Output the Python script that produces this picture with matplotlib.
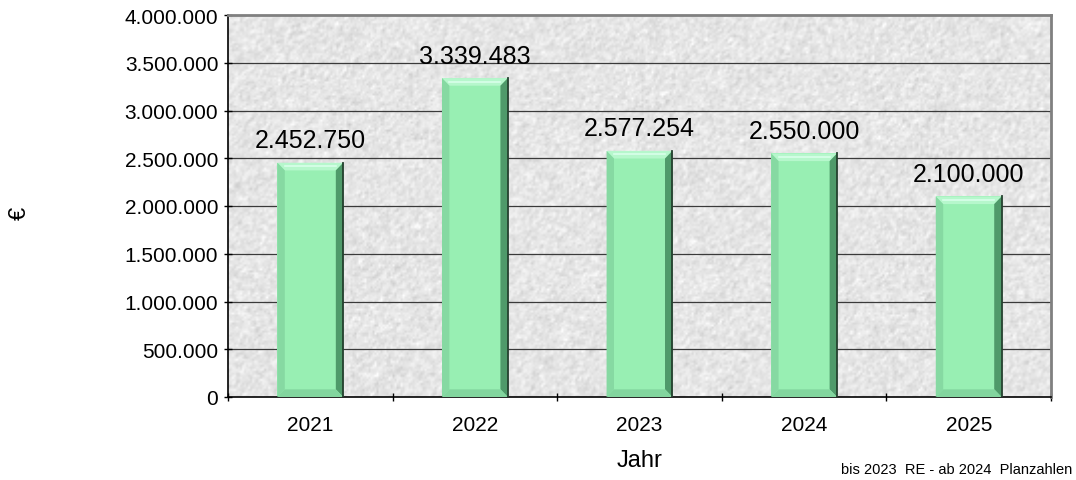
import matplotlib
matplotlib.use('agg')
import matplotlib.pyplot as plt
from matplotlib.patches import Polygon
from matplotlib.ticker import FuncFormatter, FixedLocator
import numpy as np

plt.rcParams['font.family'] = ['Liberation Sans', 'DejaVu Sans']

years = ['2021', '2022', '2023', '2024', '2025']
values = [2452750, 3339483, 2577254, 2550000, 2100000]
value_labels = ['2.452.750', '3.339.483', '2.577.254', '2.550.000', '2.100.000']

bar_color = '#98efb3'


def de_fmt(v, pos=None):
    return '{:,.0f}'.format(v).replace(',', '.')


fig = plt.figure(figsize=(10.76, 4.81), dpi=100)
ax = fig.add_axes([228 / 1076, 83 / 481, 823 / 1076, 382 / 481])

ax.set_xlim(-0.5, 4.5)
ax.set_ylim(0, 4000000)

# granite-like background texture (decoration only)
rng = np.random.default_rng(3)
tex = rng.normal(0.90, 0.05, (190, 410))
tex = (tex + np.roll(tex, 1, 0) + np.roll(tex, 1, 1)) / 3
ax.imshow(tex, cmap='gray', vmin=0, vmax=1, extent=(-0.5, 4.5, 0, 4000000),
          aspect='auto', interpolation='bilinear', zorder=0)

for y in range(500000, 4000000, 500000):
    ax.axhline(y, color='#3a3a3a', lw=0.9, zorder=1)

width = 0.4
bars = ax.bar(range(len(years)), values, width=width, color=bar_color, zorder=2)

# bevel edges
bx = 0.045
by = 80000
for i, v in enumerate(values):
    x0 = i - width / 2
    x1 = i + width / 2
    top = Polygon([(x0, v), (x1, v), (x1 - bx, v - by), (x0 + bx, v - by)],
                  closed=True, fc='#b6f7cc', ec='none', zorder=3)
    left = Polygon([(x0, v), (x0 + bx, v - by), (x0 + bx, by), (x0, 0)],
                   closed=True, fc='#86d9a2', ec='none', zorder=3)
    right = Polygon([(x1, v), (x1 - bx, v - by), (x1 - bx, by), (x1, 0)],
                    closed=True, fc='#4f9a6a', ec='none', zorder=3)
    bottom = Polygon([(x0, 0), (x1, 0), (x1 - bx, by), (x0 + bx, by)],
                     closed=True, fc='#82d59e', ec='none', zorder=3)
    for p in (top, left, right, bottom):
        ax.add_patch(p)
    ax.plot([x0 + bx, x1 - bx], [v - by * 0.45, v - by * 0.45], color='#d8ffea', lw=1.2, zorder=4)
    ax.plot([x1, x1], [0, v], color='#24402e', lw=1.3, zorder=4)
    ax.text(i, v + 110000, value_labels[i], ha='center', va='bottom', fontsize=18, zorder=5)

ax.yaxis.set_major_locator(FixedLocator(range(0, 4000001, 500000)))
ax.yaxis.set_major_formatter(FuncFormatter(de_fmt))
ax.set_xticks(range(len(years)))
ax.set_xticklabels(years)
ax.set_xticks(np.arange(-0.5, 5, 1), minor=True)
ax.tick_params(axis='x', which='major', length=0, labelsize=15, pad=13)
ax.tick_params(axis='x', which='minor', length=6, width=1, direction='inout')
ax.tick_params(axis='y', labelsize=15, length=6, width=1, direction='inout', pad=4)

for s in ('top', 'right'):
    ax.spines[s].set_color('#808080')
    ax.spines[s].set_linewidth(2)
for s in ('left', 'bottom'):
    ax.spines[s].set_color('black')
    ax.spines[s].set_linewidth(1.2)

ax.set_xlabel('Jahr', fontsize=17, labelpad=11)
fig.text(20 / 1076, 1 - 213 / 481, '€', rotation=90, fontsize=17, ha='center', va='center')
fig.text(1072 / 1076, 1 - 470 / 481, 'bis 2023  RE - ab 2024  Planzahlen', fontsize=10.5,
         ha='right', va='center')

fig.savefig('out.png', dpi=100)
